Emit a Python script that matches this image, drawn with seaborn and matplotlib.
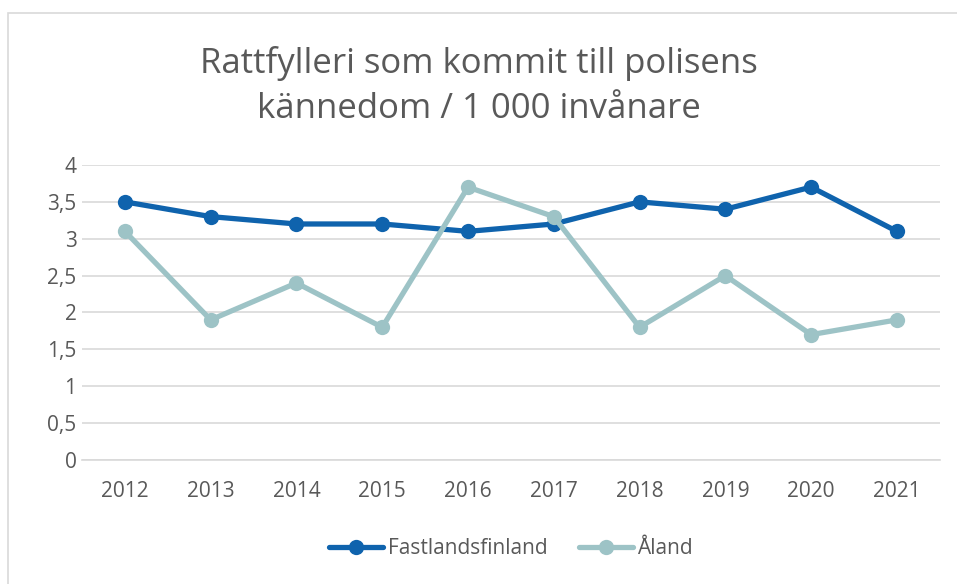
import matplotlib
matplotlib.use("Agg")
import matplotlib.pyplot as plt
import seaborn as sns
import pandas as pd
from matplotlib.patches import Rectangle

years = ["2012", "2013", "2014", "2015", "2016", "2017", "2018", "2019", "2020", "2021"]
fastland = [3.5, 3.3, 3.2, 3.2, 3.1, 3.2, 3.5, 3.4, 3.7, 3.1]
aland = [3.1, 1.9, 2.4, 1.8, 3.7, 3.3, 1.8, 2.5, 1.7, 1.9]
series_names = ["Fastlandsfinland", "Åland"]
yticks = [0, 0.5, 1, 1.5, 2, 2.5, 3, 3.5, 4]
ytick_labels = ["0", "0,5", "1", "1,5", "2", "2,5", "3", "3,5", "4"]
title = "Rattfylleri som kommit till polisens\nkännedom / 1 000 invånare"

sns.set_theme(style="white")
plt.rcParams["font.family"] = ["Open Sans", "DejaVu Sans"]

df = pd.DataFrame({
    "year": years * 2,
    "value": fastland + aland,
    "series": [series_names[0]] * len(years) + [series_names[1]] * len(years),
})

fig = plt.figure(figsize=(9.57, 5.84), dpi=100)
ax = fig.add_axes([0.0857, 0.2123, 0.8963, 0.5052])

palette = {series_names[0]: "#0F63AD", series_names[1]: "#9DC3C6"}
sns.lineplot(data=df, x="year", y="value", hue="series", palette=palette,
             marker="o", markersize=11, markeredgewidth=0, linewidth=3.8,
             ax=ax, sort=False)

ax.set_xlim(-0.5, len(years) - 0.5)
ax.set_ylim(0, 4)
ax.set_yticks(yticks)
ax.set_yticklabels(ytick_labels)
ax.grid(axis="y", color="#D9D9D9", linewidth=1.2)
ax.set_axisbelow(True)
for s in ["top", "right", "left"]:
    ax.spines[s].set_visible(False)
ax.spines["bottom"].set_color("#D9D9D9")
ax.spines["bottom"].set_linewidth(1.2)
ax.tick_params(axis="both", length=0, labelsize=15, colors="#595959")
ax.tick_params(axis="y", pad=4)
ax.tick_params(axis="x", pad=15)
ax.set_xlabel("")
ax.set_ylabel("")

fig.text(0.5, 1 - 86 / 584, title, ha="center", va="center", fontsize=25,
         color="#595959", linespacing=1.42)

handles, labels = ax.get_legend_handles_labels()
ax.legend(handles, labels, loc="center", bbox_to_anchor=(0.5, -0.30),
          ncol=2, frameon=False, fontsize=15, labelcolor="#595959",
          handlelength=2.6, columnspacing=1.5, handletextpad=0.2)

fig.patches.append(Rectangle((8 / 957, -0.1), 2, 1 - 13 / 584 + 0.1,
                             transform=fig.transFigure, fill=False,
                             edgecolor="#D9D9D9", linewidth=1.2))

fig.savefig("out.png", dpi=100)
